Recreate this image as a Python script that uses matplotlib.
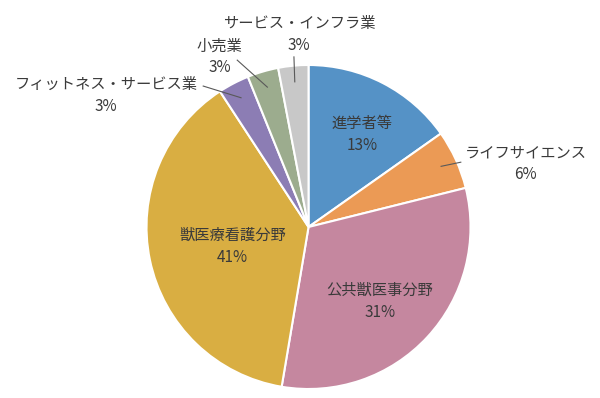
import numpy as np
import matplotlib.pyplot as plt

plt.rcParams['font.family'] = ['Noto Sans CJK JP', 'DejaVu Sans']

# データ（扇の大きさは図から読み取った値、ラベルは図の表記どおり）
categories = ['進学者等', 'ライフサイエンス', '公共獣医事分野', '獣医療看護分野',
              'フィットネス・サービス業', '小売業', 'サービス・インフラ業']
shares = [15.2, 5.9, 31.5, 38.1, 3.1, 3.1, 3.0]
pct_labels = ['13%', '6%', '31%', '41%', '3%', '3%', '3%']
colors = ['#5592C6', '#EB9A55', '#C5879F', '#D9AE42', '#8C7DB4', '#9CAC8E', '#C8C8C8']

# ラベル位置（データ座標）と引き出し線の終点
label_pos = [(0.33, 0.57), (1.34, 0.39), (0.44, -0.46), (-0.47, -0.12),
             (-1.25, 0.81), (-0.55, 1.05), (-0.06, 1.19)]
leader_end = [None, (0.94, 0.40), None, None,
              (-0.65, 0.87), (-0.44, 1.03), (-0.09, 1.05)]
half_gap = 0.068

fig = plt.figure(figsize=(6.0, 3.98), dpi=100)
ax = fig.add_axes([0.2442, 0.0226, 0.54, 0.8141])

wedges, _ = ax.pie(shares, colors=colors, startangle=90, counterclock=False,
                   radius=1.0, wedgeprops=dict(edgecolor='white', linewidth=1.5))
ax.set_xlim(-1, 1)
ax.set_ylim(-1, 1)
ax.set_aspect('equal')
ax.axis('off')

for w, name, pct, pos, end in zip(wedges, categories, pct_labels, label_pos, leader_end):
    ax.text(pos[0], pos[1] + half_gap, name, ha='center', va='center',
            fontsize=11, color='#3A3A3A', clip_on=False)
    ax.text(pos[0], pos[1] - half_gap, pct, ha='center', va='center',
            fontsize=11, color='#3A3A3A', clip_on=False)
    if end is not None:
        mid = np.deg2rad((w.theta1 + w.theta2) / 2)
        start = (0.9 * np.cos(mid), 0.9 * np.sin(mid))
        ax.plot([start[0], end[0]], [start[1], end[1]], color='#595959',
                linewidth=0.8, clip_on=False)

fig.savefig('out.png', dpi=100)
